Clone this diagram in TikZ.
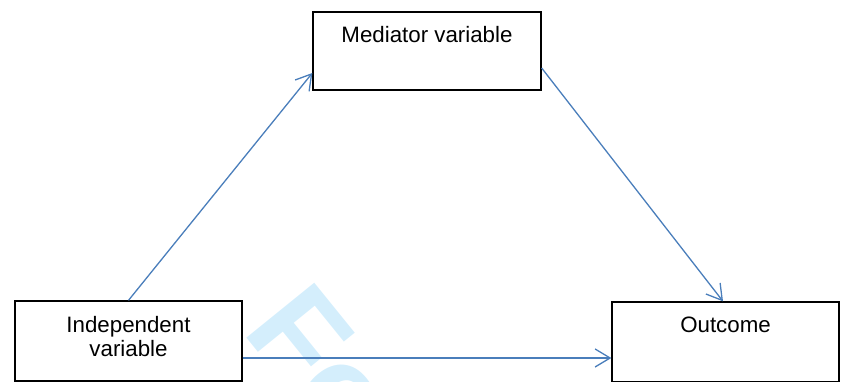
\documentclass[tikz,border=0pt]{standalone}
\usepackage{fontspec}
\setmainfont{Liberation Sans}
\usetikzlibrary{arrows.meta,calc}
\definecolor{linkblue}{HTML}{4A7EBB}
\definecolor{wmark}{RGB}{212,238,252}
\tikzset{
  box/.style={draw=black, line width=1.3pt, fill=white, inner sep=0pt, rectangle},
  boxtext/.style={inner sep=0pt, anchor=base, align=center, font=\fontsize{22.3}{24}\selectfont},
  link/.style={draw=linkblue, line width=1.3pt, -{Straight Barb[length=15pt,width=18pt,line width=1.3pt]}},
}
\begin{document}
\begin{tikzpicture}[x=1pt,y=1pt]
  \useasboundingbox (0,0) rectangle (841,382);
  \clip (0,0) rectangle (841,382);
  % faint watermark lettering behind everything
  \node[inner sep=0pt, anchor=base west, rotate=-51, text=wmark,
        font=\fontsize{127}{127}\bfseries\addfontfeatures{Kerning=Off}\selectfont] (wm) at (241,51) {Fo};
  % boxes
  \node[box, minimum width=228pt, minimum height=78pt] (med) at (427,331) {};
  \node[box, minimum width=227pt, minimum height=80pt] (ind) at (128.5,41) {};
  \node[box, minimum width=227pt, minimum height=80pt] (out) at (725.5,40) {};
  % box captions
  \node[boxtext] (medt) at (427,339) {Mediator variable};
  \node[boxtext] (indt1) at (128.5,49) {Independent};
  \node[boxtext] (indt2) at (128.5,25) {variable};
  \node[boxtext] (outt) at (725.5,49) {Outcome};
  % connectors
  \draw[link] (ind.north) -- ($(med.west)+(0,-22)$);
  \draw[link] ($(med.east)+(0,-17)$) -- ($(out.north)+(-2.5,0)$);
  \draw[link] ($(ind.east)+(0,-17)$) -- ($(out.west)+(0,-16)$);
\end{tikzpicture}
\end{document}
